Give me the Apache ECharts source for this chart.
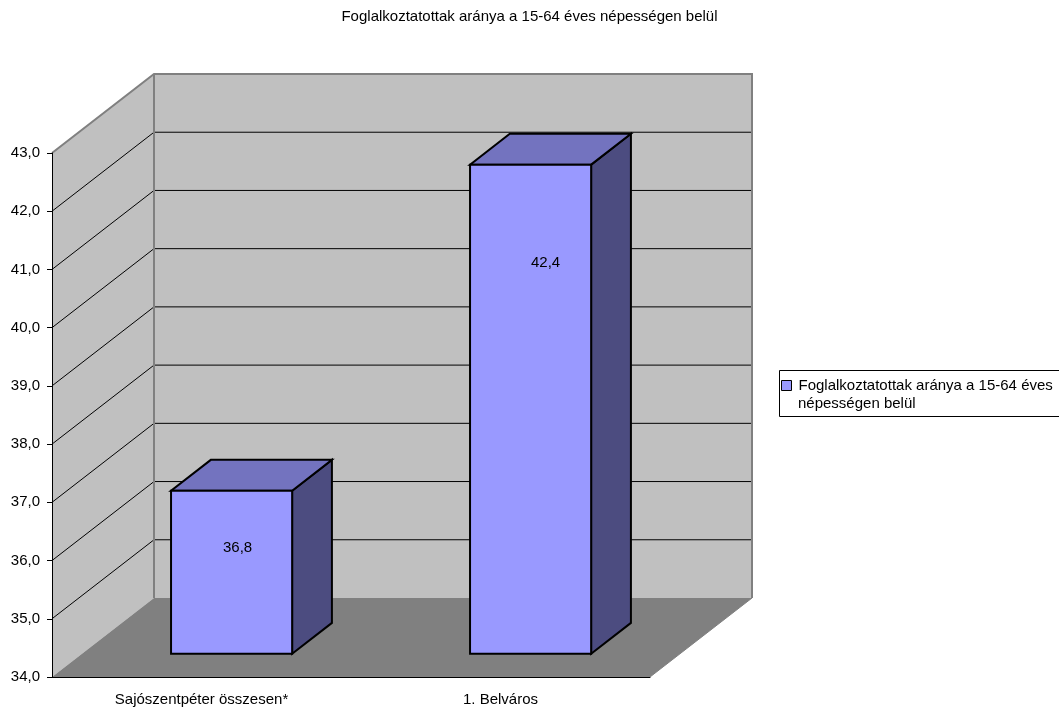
<!DOCTYPE html>
<html>
<head>
<meta charset="utf-8">
<script src="https://cdn.jsdelivr.net/npm/echarts@6/dist/echarts.min.js"></script>
<style>
html,body{margin:0;padding:0;background:#fff;}
#chart{width:1059px;height:708px;}
</style>
</head>
<body>
<div id="chart"></div>
<script>
// ---- data ----
var chartTitle = 'Foglalkoztatottak aránya a 15-64 éves népességen belül';
var seriesName = 'Foglalkoztatottak aránya a 15-64 éves népességen belül';
var legendLines = ['Foglalkoztatottak aránya a 15-64 éves', 'népességen belül'];
var categories = ['Sajószentpéter összesen*', '1. Belváros'];
var values = [36.8, 42.4];
var yTicks = [34, 35, 36, 37, 38, 39, 40, 41, 42, 43];

// ---- styling constants ----
var FONT = 'Liberation Sans, Arial, sans-serif';
var DEPTH = [102, -79];        // 3D depth vector (pixels)
var BAR_FRONT = 0.295;         // bar front plane as fraction of depth
var BAR_DEPTH = 0.39;          // bar thickness as fraction of depth
var BAR_WIDTH = 0.405;         // fraction of category width
var LABEL_SHIFT = [[6, 57], [15, 98]]; // label offset from front-face top centre

function fmt(v) { return v.toFixed(1).replace('.', ','); }

var chart = echarts.init(document.getElementById('chart'), null, {renderer: 'canvas'});

function renderWalls(params, api) {
  var cs = params.coordSys;
  var L = cs.x, R = cs.x + cs.width;
  var yMin = yTicks[0], yMax = yTicks[yTicks.length - 1];
  var yB = api.coord([0, yMin])[1];
  var yT = api.coord([0, yMax])[1];
  var dx = DEPTH[0], dy = DEPTH[1];
  var ch = [];
  ch.push({type: 'polygon', shape: {points: [[L, yT], [L + dx, yT + dy], [L + dx, yB + dy], [L, yB]]},
    style: {fill: '#C0C0C0', stroke: 'none'}});
  ch.push({type: 'polygon', shape: {points: [[L + dx, yT + dy], [R + dx, yT + dy], [R + dx, yB + dy], [L + dx, yB + dy]]},
    style: {fill: '#C0C0C0', stroke: 'none'}});
  ch.push({type: 'polygon', shape: {points: [[L, yB], [L + dx, yB + dy], [R + dx, yB + dy], [R, yB]]},
    style: {fill: '#808080', stroke: 'none'}});
  for (var i = 1; i < yTicks.length - 1; i++) {
    var y = api.coord([0, yTicks[i]])[1];
    ch.push({type: 'line', shape: {x1: L, y1: y, x2: L + dx, y2: y + dy}, style: {fill: 'none', stroke: '#000', lineWidth: 1}});
    ch.push({type: 'line', shape: {x1: L + dx, y1: y + dy, x2: R + dx, y2: y + dy}, style: {fill: 'none', stroke: '#000', lineWidth: 1}});
  }
  var edge = {fill: 'none', stroke: '#808080', lineWidth: 2};
  ch.push({type: 'polyline', shape: {points: [[L, yT], [L + dx, yT + dy], [R + dx, yT + dy], [R + dx, yB + dy]]}, style: edge});
  ch.push({type: 'line', shape: {x1: L + dx, y1: yT + dy, x2: L + dx, y2: yB + dy}, style: edge});
  ch.push({type: 'line', shape: {x1: R, y1: yB, x2: R + dx, y2: yB + dy}, style: {fill: 'none', stroke: '#808080', lineWidth: 1}});
  return {type: 'group', children: ch};
}

function renderBar(params, api) {
  var idx = params.dataIndex;
  var v = api.value(1);
  var base = api.coord([idx, yTicks[0]]);
  var top = api.coord([idx, v]);
  var bw = api.size([1, 0])[0] * BAR_WIDTH;
  var fx = DEPTH[0] * BAR_FRONT, fy = DEPTH[1] * BAR_FRONT;
  var ddx = DEPTH[0] * BAR_DEPTH, ddy = DEPTH[1] * BAR_DEPTH;
  var x0 = base[0] - bw / 2 + fx, x1 = x0 + bw;
  var yt = top[1] + fy, yb = base[1] + fy;
  var sh = LABEL_SHIFT[idx] || [0, (yb - yt) / 2];
  function st(fill) { return {fill: fill, stroke: '#000', lineWidth: 2, lineJoin: 'miter'}; }
  return {type: 'group', children: [
    {type: 'polygon', shape: {points: [[x1, yt], [x1 + ddx, yt + ddy], [x1 + ddx, yb + ddy], [x1, yb]]}, style: st('#4C4C80')},
    {type: 'polygon', shape: {points: [[x0, yt], [x1, yt], [x1 + ddx, yt + ddy], [x0 + ddx, yt + ddy]]}, style: st('#7373BF')},
    {type: 'rect', shape: {x: x0, y: yt, width: bw, height: yb - yt}, style: st('#9999FF')},
    {type: 'text', style: {text: fmt(v), x: (x0 + x1) / 2 + sh[0], y: yt + sh[1],
      align: 'center', verticalAlign: 'middle', font: '15px ' + FONT, fill: '#000'}}
  ]};
}

var option = {
  animation: false,
  backgroundColor: '#fff',
  title: {
    text: chartTitle, left: 'center', top: 4,
    textStyle: {fontFamily: FONT, fontSize: 15, fontWeight: 'normal', color: '#000'}
  },
  grid: {left: 52, top: 153, width: 598, height: 524, containLabel: false},
  xAxis: {
    type: 'category', data: categories, boundaryGap: true, z: 10,
    axisLine: {lineStyle: {color: '#000', width: 1}},
    axisTick: {length: 8, lineStyle: {color: '#000'}},
    axisLabel: {margin: 15, color: '#000', fontFamily: FONT, fontSize: 15},
    splitLine: {show: false}
  },
  yAxis: {
    type: 'value', min: 34, max: 43, interval: 1, z: 10,
    axisLine: {show: true, lineStyle: {color: '#000', width: 1}},
    axisTick: {show: true, length: 5, lineStyle: {color: '#000'}},
    axisLabel: {margin: 12, color: '#000', fontFamily: FONT, fontSize: 15, formatter: fmt},
    splitLine: {show: false}
  },
  legend: {
    data: [seriesName], left: 781, top: 378, padding: 0,
    icon: 'rect', itemWidth: 10, itemHeight: 10,
    itemStyle: {color: '#9999FF', borderColor: '#000', borderWidth: 1},
    formatter: function () { return legendLines[0]; },
    textStyle: {fontFamily: FONT, fontSize: 15, color: '#000', padding: [0, 0, 0, 2]},
    selectedMode: false
  },
  graphic: [
    {type: 'rect', left: 777, top: 368, shape: {width: 300, height: 46},
      style: {fill: 'none', stroke: '#000', lineWidth: 1}, z: 100},
    {type: 'text', left: 798, top: 396, z: 100,
      style: {text: legendLines[1], font: '15px ' + FONT, fill: '#000'}}
  ],
  series: [
    {type: 'custom', name: 'walls', renderItem: renderWalls, data: [[0, 34]], z: 1, clip: false, silent: true},
    {type: 'custom', name: seriesName, renderItem: renderBar, z: 3, clip: false,
      itemStyle: {color: '#9999FF'},
      data: values.map(function (v, i) { return [i, v]; })}
  ]
};
chart.setOption(option);
</script>
</body>
</html>
